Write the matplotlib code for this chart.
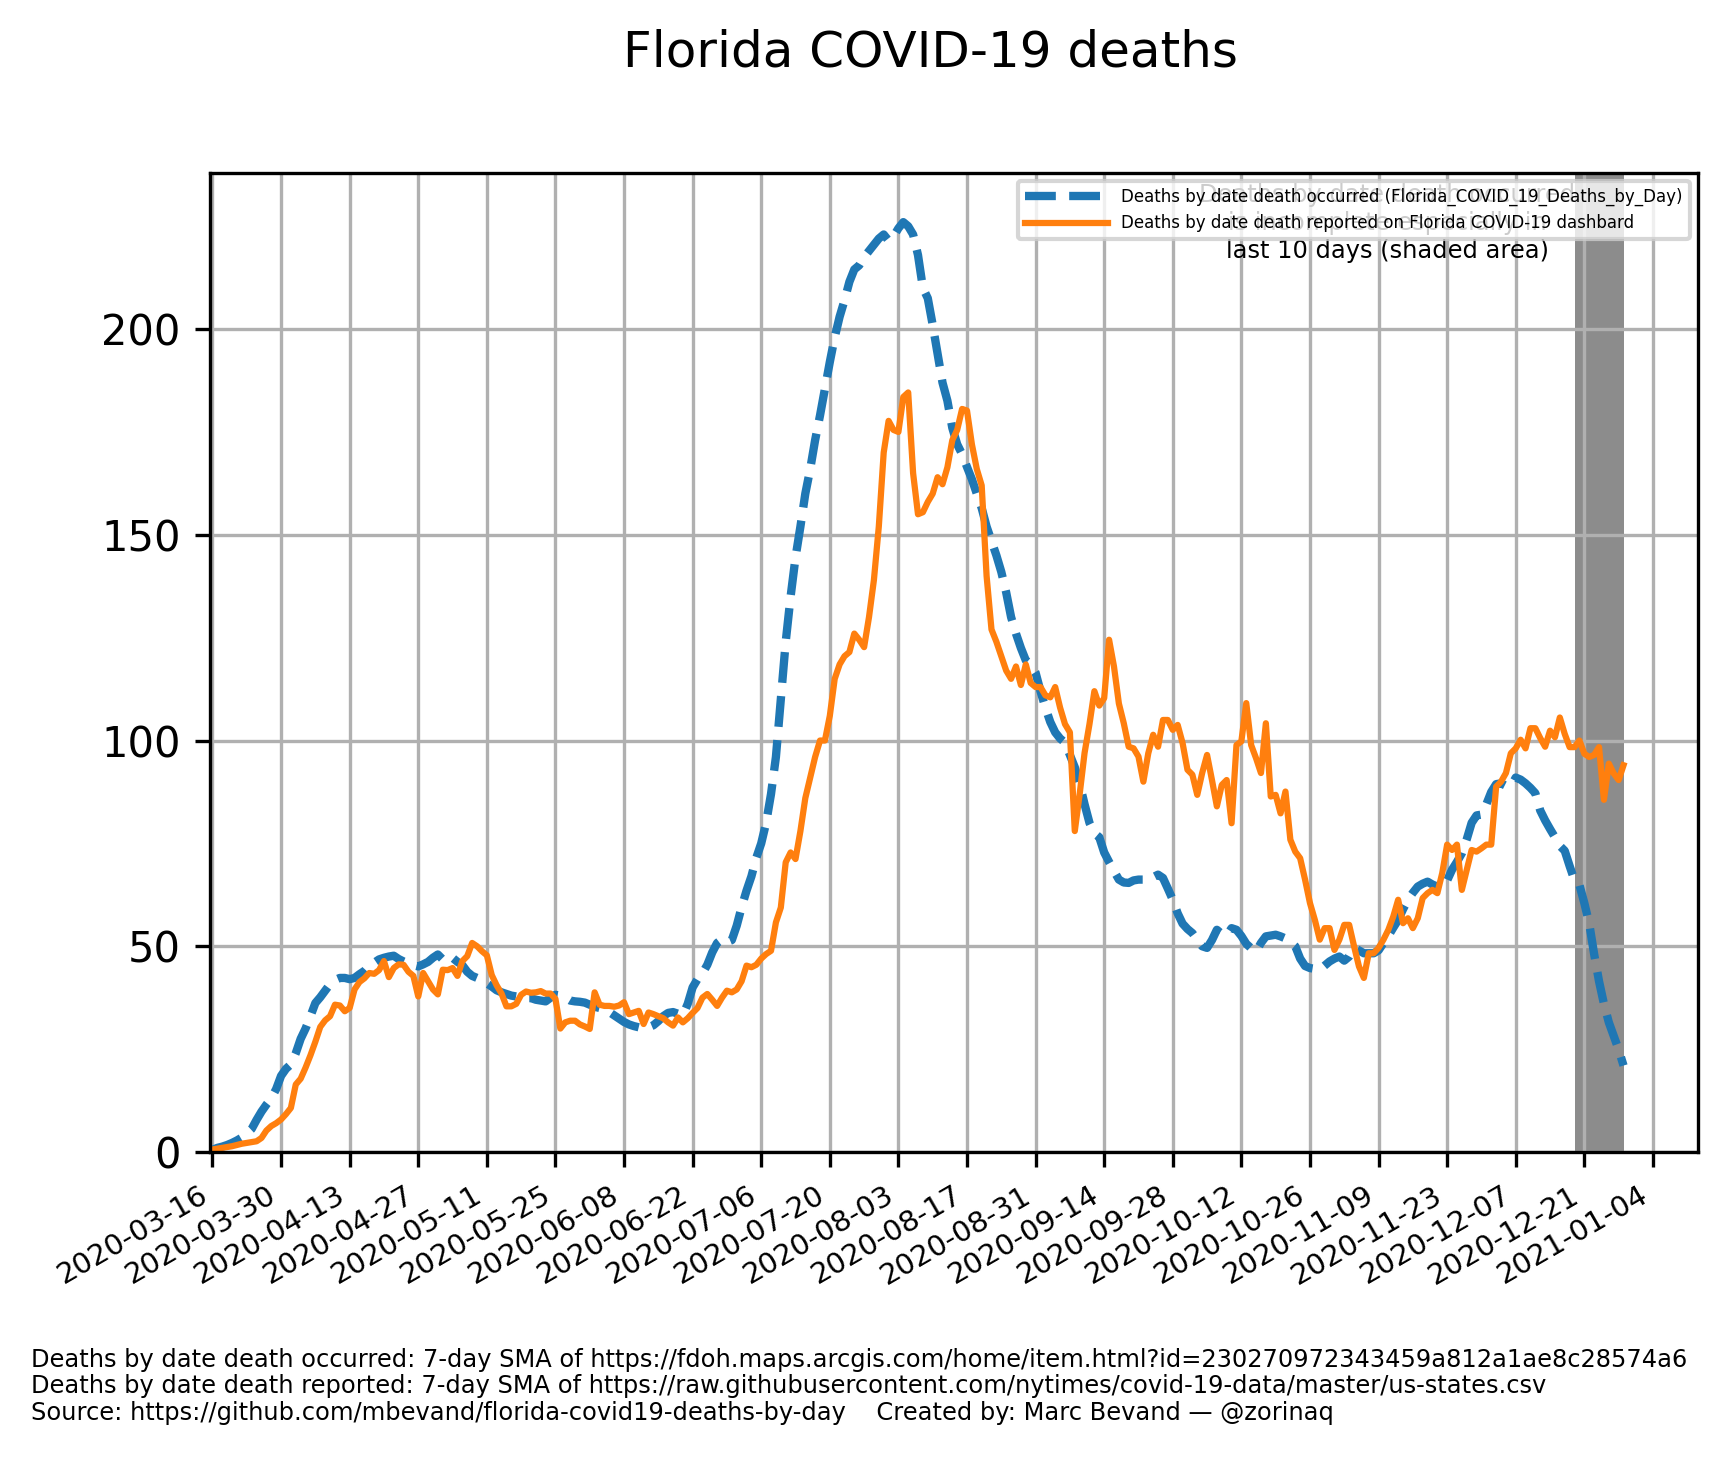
import pandas as pd
import matplotlib
matplotlib.use('Agg')
import matplotlib.pyplot as plt

# 7-day SMA, one value per day starting 2020-03-16
inicio = '2020-03-16'
occurred = [
    0.5, 1.0, 1.3, 1.7, 2.2, 2.8, 3.5, 4.5, 5.6, 7.8,
    9.8, 11.5, 13.0, 15.3, 18.5, 20.2, 21.3, 24.0, 27.5, 30.0,
    33.0, 36.2, 37.6, 39.2, 40.8, 41.8, 42.3, 42.3, 42.0, 42.3,
    43.2, 44.0, 45.3, 46.0, 46.8, 47.2, 47.5, 47.7, 46.9, 46.3,
    45.8, 45.4, 45.1, 45.6, 46.2, 47.2, 48.0, 46.8, 47.6, 47.2,
    46.2, 45.4, 43.8, 42.8, 42.3, 42.0, 41.0, 40.2, 39.3, 38.8,
    38.4, 38.0, 37.8, 37.6, 37.4, 37.4, 37.0, 36.8, 36.6, 37.5,
    38.2, 38.0, 37.5, 36.8, 36.6, 36.5, 36.3, 35.8, 35.3, 35.0,
    34.6, 34.0, 33.2, 32.4, 31.6, 31.0, 30.6, 30.3, 30.2, 30.3,
    30.8, 31.8, 33.0, 33.8, 34.0, 33.6, 33.2, 36.0, 40.0, 42.0,
    43.4, 45.5, 48.5, 50.8, 51.7, 51.0, 51.5, 55.0, 59.5, 63.5,
    67.0, 71.5, 75.0, 80.0, 87.0, 96.0, 110.0, 124.0, 135.0, 144.5,
    152.0, 160.0, 166.0, 173.0, 179.0, 185.5, 192.0, 198.0, 203.0, 207.0,
    211.5, 214.5, 215.5, 217.5, 219.0, 220.5, 222.0, 223.0, 221.5, 222.5,
    224.5, 226.0, 225.0, 223.0, 218.0, 210.0, 207.5, 201.0, 194.0, 187.0,
    182.6, 176.0, 172.0, 169.6, 166.5, 163.5, 160.0, 156.5, 152.0, 148.5,
    145.0, 141.0, 136.0, 130.0, 126.0, 122.5, 119.5, 118.5, 116.5, 112.0,
    108.0, 104.5, 102.0, 100.5, 99.5, 96.5, 93.5, 89.5, 84.5, 80.0,
    77.5, 76.5, 72.8, 70.5, 68.3, 66.2, 65.5, 65.4, 66.0, 66.2,
    66.2, 66.0, 66.8, 67.4, 66.6, 64.0, 61.3, 58.0, 55.5, 54.2,
    53.2, 51.6, 50.0, 49.6, 51.5, 54.0, 53.0, 52.6, 54.4, 54.0,
    52.5, 50.6, 49.5, 48.7, 50.8, 52.4, 52.6, 52.8, 52.4, 51.9,
    51.0, 50.0, 47.0, 45.2, 44.7, 44.5, 44.3, 45.3, 46.3, 47.0,
    47.5, 46.5, 47.5, 49.6, 49.0, 48.3, 48.3, 48.3, 49.0, 50.8,
    52.5, 54.5, 56.4, 59.0, 61.3, 63.0, 64.5, 65.2, 65.7, 65.0,
    64.5, 65.0, 66.0, 68.6, 70.5, 72.6, 76.0, 80.0, 81.8, 82.0,
    84.5, 87.5, 89.4, 89.6, 89.0, 88.8, 91.0, 90.5, 89.6, 88.5,
    87.2, 83.0, 80.6, 78.5, 76.5, 74.4, 73.2, 69.5, 66.0, 64.9,
    60.5, 55.5, 48.1, 41.5, 36.0, 31.5, 28.2, 24.9, 21.0,
]
reported = [
    0.6, 0.8, 1.0, 1.2, 1.4, 1.7, 2.0, 2.2, 2.4, 2.6,
    3.4, 5.2, 6.3, 7.0, 7.9, 9.2, 10.7, 16.4, 17.8, 20.5,
    23.5, 26.8, 30.4, 32.0, 33.0, 35.8, 35.6, 34.2, 35.0, 39.5,
    41.3, 42.2, 43.5, 43.3, 44.2, 46.4, 42.5, 44.7, 45.6, 45.5,
    43.8, 42.8, 37.8, 43.5, 41.5, 39.5, 38.3, 44.3, 44.2, 44.7,
    42.8, 46.4, 47.6, 50.8, 50.0, 48.8, 47.8, 43.0, 40.5, 38.5,
    35.4, 35.4, 36.0, 38.2, 39.0, 38.7, 38.8, 39.1, 38.5, 38.5,
    37.2, 30.0, 31.5, 31.9, 31.9, 31.0, 30.5, 29.9, 38.8, 35.8,
    35.5, 35.5, 35.3, 35.6, 36.4, 33.5, 33.9, 34.3, 31.1, 33.9,
    33.5, 33.0, 32.5, 31.5, 30.7, 32.7, 31.5, 32.5, 33.8, 35.0,
    37.5, 38.4, 37.0, 35.5, 37.5, 39.2, 38.8, 39.5, 41.5, 45.3,
    44.9, 45.5, 47.0, 48.1, 48.9, 55.8, 59.4, 70.4, 72.8, 71.2,
    78.0, 86.0, 91.0, 96.0, 100.0, 100.0, 106.0, 115.0, 118.5, 120.5,
    121.5, 126.0, 124.5, 122.7, 130.0, 139.0, 152.0, 170.0, 177.7, 175.5,
    175.0, 183.5, 184.6, 165.0, 155.0, 155.5, 158.0, 160.0, 164.0, 162.3,
    166.4, 173.0, 175.5, 180.6, 180.2, 172.0, 166.0, 162.0, 140.0, 127.0,
    124.0, 120.5, 117.0, 115.0, 118.0, 113.5, 118.5, 114.0, 113.0, 113.0,
    111.0, 110.5, 113.0, 108.0, 104.0, 102.0, 78.0, 87.0, 97.0, 104.0,
    112.0, 108.5, 110.3, 124.5, 118.0, 109.0, 104.2, 98.5, 98.1, 96.1,
    90.0, 96.9, 101.4, 98.5, 105.0, 105.0, 102.6, 103.8, 99.4, 92.9,
    91.7, 86.8, 92.1, 96.5, 90.4, 84.0, 89.2, 90.4, 79.9, 98.9,
    99.8, 109.1, 98.9, 95.7, 92.1, 104.2, 86.4, 86.8, 82.3, 87.6,
    75.9, 73.0, 71.4, 66.2, 60.5, 56.4, 51.6, 54.4, 54.4, 49.1,
    51.6, 55.2, 55.2, 50.0, 45.1, 42.3, 48.3, 48.3, 49.6, 51.6,
    54.0, 57.2, 61.3, 55.6, 56.8, 54.4, 56.8, 61.7, 62.9, 63.7,
    62.9, 67.8, 74.7, 73.4, 74.7, 63.7, 68.6, 73.4, 73.0, 73.8,
    74.7, 74.7, 88.8, 90.0, 92.1, 96.9, 98.1, 100.2, 98.1, 103.0,
    103.0, 100.6, 98.5, 102.4, 100.8, 105.6, 101.6, 98.4, 98.4, 100.0,
    96.8, 96.0, 96.5, 98.4, 85.6, 94.4, 92.0, 90.4, 94.0,
]
fechas = pd.date_range(inicio, periods=len(occurred), freq='D')
ticks = pd.date_range('2020-03-16', '2021-01-04', freq='14D')

lbl_occ = 'Deaths by date death occurred (Florida_COVID_19_Deaths_by_Day)'
lbl_rep = 'Deaths by date death reported on Florida COVID-19 dashbard'
nota = 'Deaths by date death occurred\nis incomplete especially in\nlast 10 days (shaded area)'
pie = [
    'Deaths by date death occurred: 7-day SMA of https://fdoh.maps.arcgis.com/home/item.html?id=230270972343459a812a1ae8c28574a6',
    'Deaths by date death reported: 7-day SMA of https://raw.githubusercontent.com/nytimes/covid-19-data/master/us-states.csv',
    'Source: https://github.com/mbevand/florida-covid19-deaths-by-day    Created by: Marc Bevand \u2014 @zorinaq',
]

fig = plt.figure(figsize=(1730 / 300, 1458 / 300), dpi=300)
ax = fig.add_axes([0.1214, 0.2099, 0.8601, 0.6716])

ax.plot(fechas, occurred, '--', color='tab:blue', linewidth=2, label=lbl_occ)
ax.plot(fechas, reported, color='tab:orange', linewidth=1.5, label=lbl_rep)

# last 10 days are incomplete
ax.axvspan(fechas[-1] - pd.Timedelta(days=10), fechas[-1], color='#8c8c8c', linewidth=0)
ax.text(0.791, 0.949, nota, transform=ax.transAxes, ha='center', va='center',
        fontsize='xx-small')

ax.set_xlim(fechas[0] - pd.Timedelta(hours=12), fechas[0] + pd.Timedelta(days=303.2))
ax.set_ylim(0, 238)
ax.set_xticks(ticks)
ax.set_xticklabels([t.strftime('%Y-%m-%d') for t in ticks], rotation=30, ha='right', fontsize=7)
ax.grid(True)
ax.legend(loc='upper right', fontsize=4, handlelength=5)

fig.suptitle('Florida COVID-19 deaths', x=0.5376, y=0.9802)
for i, linea in enumerate(pie):
    fig.text(0.0179, 0.0672 - i * 0.0180, linea, fontsize='xx-small', va='center')

fig.savefig('out.png', dpi=300)
